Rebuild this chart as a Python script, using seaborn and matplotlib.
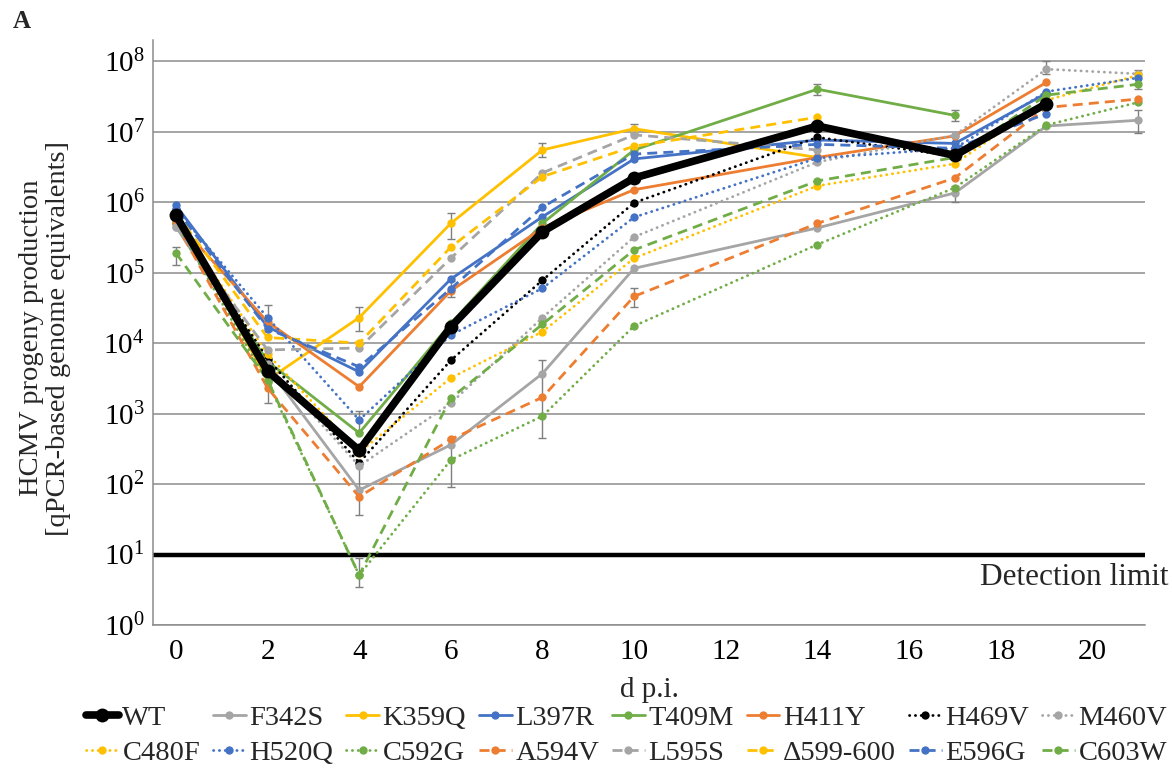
import numpy as np
import pandas as pd
import matplotlib
matplotlib.use("Agg")
import matplotlib.pyplot as plt
import matplotlib.transforms as mtransforms
from matplotlib.ticker import LogFormatterMathtext, FixedLocator
import seaborn as sns

# ---------------- data ----------------
DPI = [0, 2, 4, 6, 8, 10, 14, 17, 19, 21]

WT       = [6.5e5, 4.0e3, 3.0e2, 1.7e4, 3.8e5, 2.2e6, 1.2e7, 4.6e6, 2.5e7, None]
F342S    = [4.5e5, 4.5e3, 82, 3.6e2, 3.7e3, 1.15e5, 4.3e5, 1.35e6, 1.2e7, 1.45e7]
K359Q    = [7.0e5, 3.0e3, 2.3e4, 5.0e5, 5.5e6, 1.1e7, 4.3e6, None, None, None]
L397R    = [9.0e5, 1.7e4, 3.9e3, 8.1e4, 6.2e5, 4.1e6, 7.6e6, 6.8e6, 3.5e7, None]
T409M    = [5.0e5, 5.5e3, 5.3e2, 1.9e4, 5.0e5, 5.5e6, 4.0e7, 1.7e7, None, None]
H411Y    = [5.5e5, 2.0e4, 2.4e3, 5.5e4, 4.3e5, 1.5e6, 4.3e6, 8.7e6, 5.0e7, None]
H469V    = [6.0e5, 6.0e3, 2.0e2, 5.7e3, 7.8e4, 9.8e5, 8.3e6, 4.5e6, 2.5e7, None]
M460V    = [5.0e5, 5.0e3, 1.8e2, 1.4e3, 2.3e4, 3.2e5, 3.7e6, 8.9e6, 7.7e7, 6.6e7]
C480F    = [6.0e5, 7.0e3, 2.8e2, 3.2e3, 1.45e4, 1.6e5, 1.7e6, 3.5e6, 2.8e7, 6.3e7]
H520Q    = [8.0e5, 2.3e4, 8.1e2, 1.3e4, 6.0e4, 6.1e5, 4.2e6, 5.8e6, 3.7e7, 5.8e7]
C592G    = [5.0e5, 2.8e3, 5.1, 2.2e2, 9.2e2, 1.75e4, 2.5e5, 1.6e6, 1.24e7, 2.6e7]
A594V    = [5.0e5, 2.3e3, 66, 4.3e2, 1.7e3, 4.6e4, 5.0e5, 2.2e6, 2.2e7, 2.9e7]
L595S    = [4.5e5, 8.0e3, 8.5e3, 1.6e5, 2.6e6, 9.0e6, 5.5e6, None, None, None]
D599_600 = [7.0e5, 1.2e4, 1.0e4, 2.3e5, 2.3e6, 6.2e6, 1.6e7, None, None, None]
E596G    = [8.0e5, 1.6e4, 4.6e3, 5.9e4, 8.5e5, 4.8e6, 6.6e6, 5.8e6, 1.8e7, None]
C603W    = [1.9e5, 3.0e3, 5.1, 1.65e3, 1.85e4, 2.1e5, 2.0e6, 4.3e6, 3.3e7, 4.7e7]

NAMES = ["WT", "F342S", "K359Q", "L397R", "T409M", "H411Y", "H469V", "M460V",
         "C480F", "H520Q", "C592G", "A594V", "L595S", "\u0394599-600", "E596G", "C603W"]
SERIES = [WT, F342S, K359Q, L397R, T409M, H411Y, H469V, M460V,
          C480F, H520Q, C592G, A594V, L595S, D599_600, E596G, C603W]

# selected error bars (day, lower, upper)
ERR_DPI  = [0, 2, 2, 4, 4, 4, 4, 6, 6, 6, 8, 8, 10, 10, 14, 17, 17, 19, 21, 21]
ERR_LOW  = [1.3e5, 1.5e4, 1.4e3, 1.5e4, 5.5e2, 36, 3.5, 3.0e5, 90, 4.5e4, 4.3e6, 4.5e2, 9.5e6, 3.2e4, 3.3e7, 1.4e7, 1.0e6, 6.5e7, 9.5e6, 4.0e7]
ERR_HIGH = [2.3e5, 3.5e4, 2.8e3, 3.3e4, 1.1e3, 2.0e2, 9.0, 7.0e5, 4.5e2, 7.5e4, 6.8e6, 5.8e3, 1.3e7, 6.0e4, 4.8e7, 2.0e7, 1.7e6, 1.0e8, 2.0e7, 7.5e7]

X_TICKS = [0, 2, 4, 6, 8, 10, 12, 14, 16, 18, 20]
DETECTION_LIMIT = 10
Y_LABEL = "HCMV progeny production\n[qPCR-based genome equivalents]"
X_LABEL = "d p.i."

# ---------------- styles ----------------
BLACK, GRAY, YEL, BLUE, GREEN, ORANGE = "#000000", "#A5A5A5", "#FFC000", "#4472C4", "#70AD47", "#ED7D31"
DOT = (0, (0.1, 2.0))
DASH = (0, (3.6, 2.2))
STYLES = {
    "WT": (BLACK, "-"), "F342S": (GRAY, "-"), "K359Q": (YEL, "-"), "L397R": (BLUE, "-"),
    "T409M": (GREEN, "-"), "H411Y": (ORANGE, "-"), "H469V": (BLACK, DOT), "M460V": (GRAY, DOT),
    "C480F": (YEL, DOT), "H520Q": (BLUE, DOT), "C592G": (GREEN, DOT), "A594V": (ORANGE, DASH),
    "L595S": (GRAY, DASH), "\u0394599-600": (YEL, DASH), "E596G": (BLUE, DASH), "C603W": (GREEN, DASH),
}

sns.set_theme(style="white")
plt.rcParams["font.family"] = ["Liberation Serif", "DejaVu Serif"]
plt.rcParams["mathtext.fontset"] = "custom"
plt.rcParams["mathtext.rm"] = "Liberation Serif"
plt.rcParams["mathtext.it"] = "Liberation Serif:italic"

fig = plt.figure(figsize=(11.72, 7.78), dpi=100)
ax = fig.add_axes([153 / 1172, 1 - 625 / 778, (1145 - 153) / 1172, (625 - 40) / 778])

ax.set_yscale("log")
ax.set_ylim(1, 10 ** 8.3)
ax.set_xlim(-0.5, 21.15)

for k in range(0, 9):
    ax.axhline(10 ** k, color="#8C8C8C", lw=1.1, zorder=0)

ax.axhline(DETECTION_LIMIT, color="black", lw=3.2, zorder=1)

# error bars
ERR_MID = [np.sqrt(lo * hi) for lo, hi in zip(ERR_LOW, ERR_HIGH)]
ax.errorbar(ERR_DPI, ERR_MID,
            yerr=[np.array(ERR_MID) - np.array(ERR_LOW), np.array(ERR_HIGH) - np.array(ERR_MID)],
            fmt="none", ecolor="#7F7F7F", elinewidth=1.0, capsize=3, capthick=1.0, zorder=2)

handles = []
for name, vals in zip(NAMES, SERIES):
    col, ls = STYLES[name]
    df = pd.DataFrame({"dpi": DPI, "val": vals}).dropna()
    is_wt = name == "WT"
    lw = 5.5 if is_wt else 2.0
    ms = 10 if is_wt else 6
    sns.lineplot(data=df, x="dpi", y="val", ax=ax, color=col, linestyle=ls, lw=lw,
                 marker="o", markersize=ms, markeredgewidth=0, sort=False,
                 estimator=None, legend=False, zorder=5 if is_wt else 3)
    line = ax.get_lines()[-1]
    if ls == DOT:
        line.set_dash_capstyle("round")
    h = matplotlib.lines.Line2D([], [], color=col, linestyle=ls, lw=lw, marker="o",
                                markersize=ms, markeredgewidth=0)
    if ls == DOT:
        h.set_dash_capstyle("round")
    handles.append(h)

for s in ["top", "right"]:
    ax.spines[s].set_visible(False)
ax.spines["left"].set_color("#8C8C8C")
ax.spines["left"].set_linewidth(1.1)
ax.spines["bottom"].set_color("#8C8C8C")
ax.spines["bottom"].set_linewidth(1.1)
ax.yaxis.set_major_locator(FixedLocator([10 ** k for k in range(0, 9)]))
ax.yaxis.set_major_formatter(LogFormatterMathtext())
ax.yaxis.set_minor_locator(FixedLocator([]))
ax.set_xticks(X_TICKS)
ax.tick_params(axis="both", length=0, labelsize=21, colors="black")
ax.tick_params(axis="x", pad=10)
ax.tick_params(axis="y", pad=6)
ax.set_xlabel(X_LABEL, fontsize=21, labelpad=9)
ax.set_ylabel("")
ax.grid(False)

fig.text(45 / 1172, 1 - 338 / 778, Y_LABEL, rotation=90, ha="center", va="center",
         fontsize=20.5, linespacing=1.15)
fig.text(13 / 1172, 1 - 21 / 778, "A", fontsize=18, fontweight="bold", ha="left", va="center")

trans = mtransforms.blended_transform_factory(fig.transFigure, ax.transData)
ax.text(1168 / 1172, DETECTION_LIMIT * 0.75, "Detection limit", transform=trans,
        ha="right", va="top", fontsize=22.5)

order = []
for c in range(8):
    order += [c, c + 8]
leg = fig.legend([handles[i] for i in order], [NAMES[i] for i in order],
                 ncol=8, loc="upper left", bbox_to_anchor=(86 / 1172, 1 - 705 / 778),
                 frameon=False, fontsize=20.5, handlelength=1.15, handletextpad=0.13,
                 columnspacing=0.45, labelspacing=0.32, borderaxespad=0, borderpad=0)

fig.savefig("out.png", dpi=100)
